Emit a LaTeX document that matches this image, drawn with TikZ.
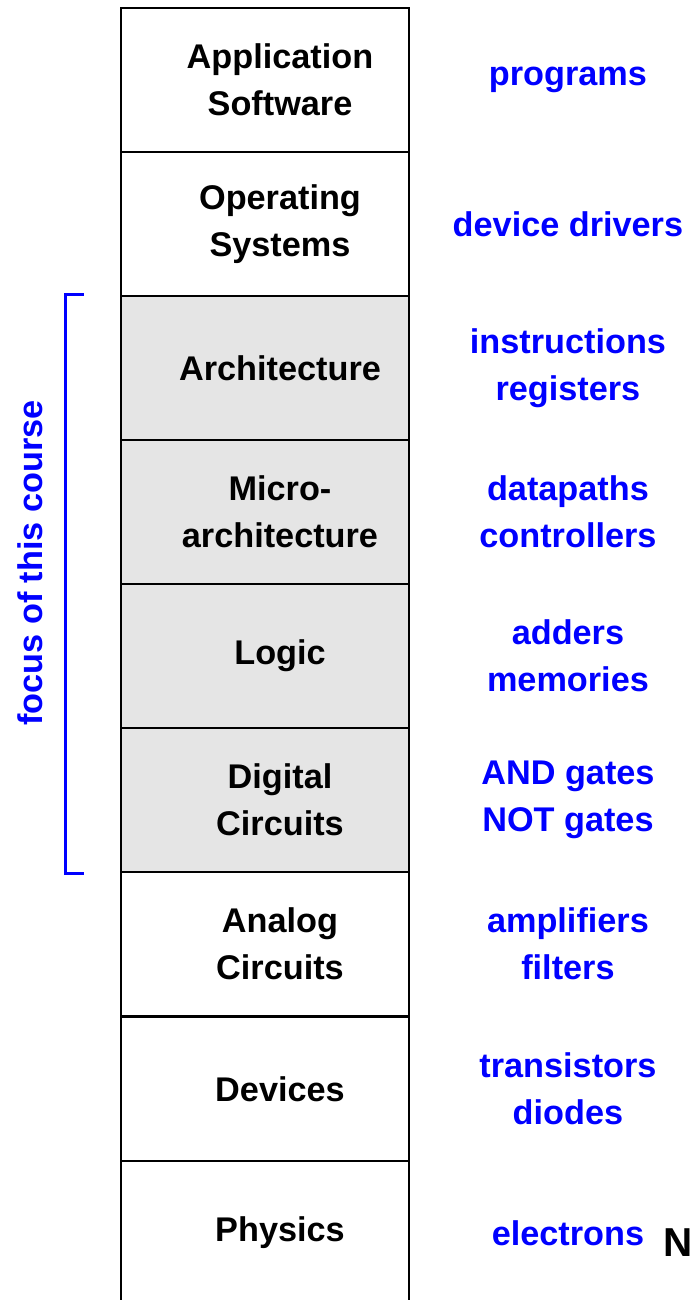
\documentclass[tikz,border=0pt]{standalone}
\usepackage{fontspec}
\setmainfont{Liberation Sans}
\tikzstyle{layer}=[draw,line width=1.6pt,minimum width=5.76cm,minimum height=2.88cm,inner sep=0pt]
\tikzstyle{shaded}=[layer,fill=black!10]
\tikzstyle{caption}=[align=center,inner sep=0pt,font=\bfseries\fontsize{19.5}{27}\selectfont]
\tikzstyle{sample}=[caption,text=blue]
\tikzstyle{bracket}=[draw,blue,line width=1.3pt]

\begin{document}
\begin{tikzpicture}[x=0.02cm,y=-0.02cm]
    \useasboundingbox (0,0) rectangle (691,1300);
	\foreach \y/\name/\look in {80/app/layer, 224/os/layer, 368/arch/shaded,
                            512/uarch/shaded, 656/logic/shaded, 800/digital/shaded,
                            944/analog/layer, 1089/devices/layer, 1233/physics/layer}
        \node[\look] (\name) at (265,\y) {};
    \foreach \name/\text in {app/{Application\\Software}, os/{Operating\\Systems},
                             arch/{Architecture}, uarch/{Micro-\\architecture},
                             logic/{Logic}, digital/{Digital\\Circuits},
                             analog/{Analog\\Circuits}, devices/{Devices}, physics/{Physics}}
        \node[caption] (\name-text) at ([xshift=0.3cm]\name.center) {\text};
    \foreach \name/\text in {app/{programs}, os/{device drivers},
                             arch/{instructions\\registers}, uarch/{datapaths\\controllers},
                             logic/{adders\\memories}, digital/{AND gates\\NOT gates},
                             analog/{amplifiers\\filters}, devices/{transistors\\diodes},
                             physics/{electrons}}
        \node[sample] (\name-ex) at ([xshift=6.06cm]\name.center) {\text};

    % bracket round the shaded layers
    \path[bracket] ([xshift=-0.72cm]arch.north west) -- ++(-0.36cm,0)
        |- ([xshift=-0.72cm]digital.south west);
    \node[sample,rotate=90] (focus) at (30,563) {focus of this course};

    \node[caption,anchor=base west,font=\bfseries\fontsize{23}{27}\selectfont] (cut) at (663,1256) {N};
\end{tikzpicture}
\end{document}
